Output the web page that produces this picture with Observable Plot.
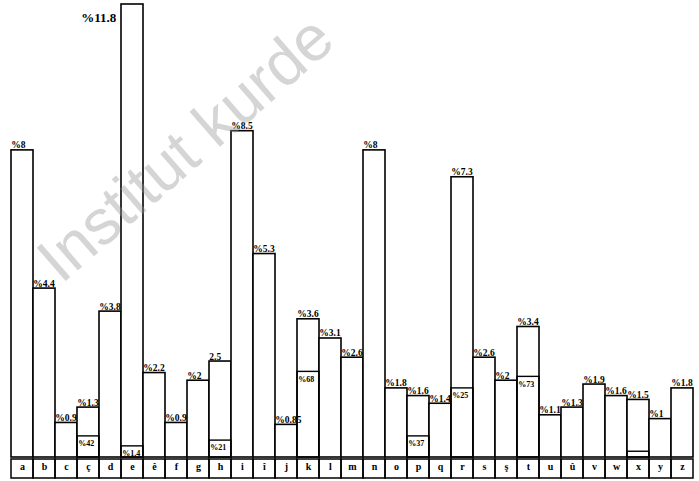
<!DOCTYPE html>
<html><head><meta charset="utf-8">
<script src="https://cdn.jsdelivr.net/npm/d3@7"></script>
<script src="https://cdn.jsdelivr.net/npm/@observablehq/plot@0.6"></script>
<style>
body{margin:0;background:#fff}
#wrap{position:relative;width:699px;height:481px;overflow:hidden}
#wm{position:absolute;left:185px;top:148px;transform:translate(-50%,-50%) rotate(-41deg);font-family:"Liberation Sans",Arial,sans-serif;font-size:64px;color:rgba(150,150,150,0.4);white-space:nowrap;pointer-events:none}
</style>
</head><body><div id="wrap"><div id="wm">Institut kurde</div></div>
<script>
const letters = ["a","b","c","ç","d","e","ê","f","g","h","i","î","j","k","l","m","n","o","p","q","r","s","ş","t","u","û","v","w","x","y","z"];
const values = [8,4.4,0.9,1.3,3.8,11.8,2.2,0.9,2,2.5,8.5,5.3,0.85,3.6,3.1,2.6,8,1.8,1.6,1.4,7.3,2.6,2,3.4,1.1,1.3,1.9,1.6,1.5,1,1.8];
const valueLabels = ["%8","%4.4","%0.9","%1.3","%3.8","%11.8","%2.2","%0.9","%2","2.5","%8.5","%5.3","%0.85","%3.6","%3.1","%2.6","%8","%1.8","%1.6","%1.4","%7.3","%2.6","%2","%3.4","%1.1","%1.3","%1.9","%1.6","%1.5","%1","%1.8"];
const innerLetters = ["ç","e","h","k","p","r","t","x"];
const innerValues = [0.55,0.29,0.44,2.23,0.55,1.8,2.1,0.15];
const innerLabels = ["%42","%1.4","%21","%68","%37","%25","%73",""];

const bars = letters.map((l,i)=>({letter:l, value:values[i], label:valueLabels[i]}));
const inner = innerLetters.map((l,i)=>({letter:l, value:innerValues[i], label:innerLabels[i]}));
const bw = (699-6-2)/letters.length;
const serif = "'Liberation Serif','DejaVu Serif',serif";

function labelBoxes(index, scales, values, dims) {
  const g = d3.create("svg:g");
  const top = dims.height - dims.marginBottom + 2;
  const h = 19;
  const step = scales.x(letters[1]) - scales.x(letters[0]);
  for (const l of letters) {
    g.append("rect").attr("x", scales.x(l)).attr("y", top).attr("width", step).attr("height", h)
      .attr("fill","none").attr("stroke","black").attr("stroke-width",1.5);
  }
  return g.node();
}

const chart = Plot.plot({
  width: 699, height: 481,
  marginTop: 4, marginBottom: 24, marginLeft: 6, marginRight: 2,
  style: {background: "white", fontFamily: serif},
  x: {domain: letters, padding: 0, axis: null},
  y: {domain: [0, 11.8], axis: null},
  marks: [
    Plot.barY(bars, {x: "letter", y: "value", fill: "white", stroke: "black", strokeWidth: 1.6}),
    Plot.barY(inner, {x: "letter", y: "value", fill: "none", stroke: "black", strokeWidth: 1.4}),
    Plot.text(inner, {x: "letter", y: "value", text: "label", lineAnchor: "top", dy: 4, textAnchor: "start", dx: -bw/2 + 1, fontSize: 8, fontWeight: "bold"}),
    Plot.text(bars.filter(d => d.letter !== "e"), {x: "letter", y: "value", text: "label", lineAnchor: "bottom", dy: -2, textAnchor: "start", dx: -bw/2, fontSize: 9.5, fontWeight: "bold"}),
    Plot.text(bars.filter(d => d.letter === "e"), {x: "letter", y: "value", text: "label", lineAnchor: "top", dy: 8, textAnchor: "end", dx: -bw/2 - 5, fontSize: 13, fontWeight: "bold"}),
    labelBoxes,
    Plot.text(letters, {x: d => d, frameAnchor: "bottom", dy: 12, text: d => d, fontSize: 10, fontWeight: "bold"})
  ]
});
document.getElementById("wrap").prepend(chart);
</script>
</body></html>
